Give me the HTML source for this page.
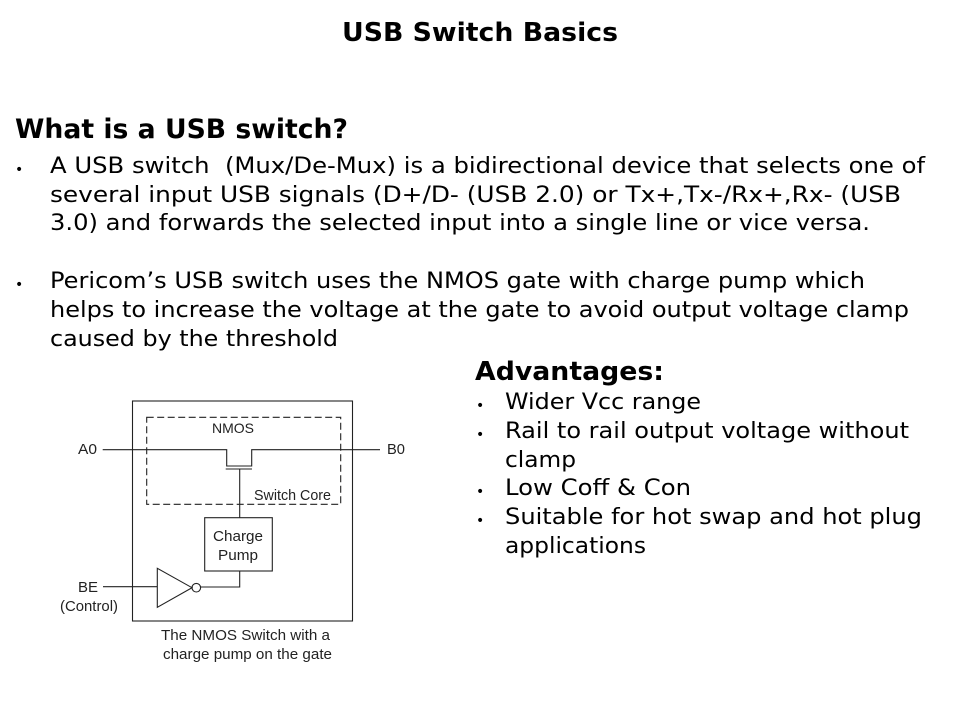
<!DOCTYPE html>
<html><head><meta charset="utf-8"><style>
html,body{margin:0;padding:0;background:#fff}
svg{display:block}
.b{font-family:"DejaVu Sans",sans-serif;font-size:22px;fill:#000}
.h{font-family:"DejaVu Sans",sans-serif;font-weight:bold;fill:#000}
.d{font-family:"Liberation Sans",sans-serif;font-size:15px;fill:#222}
.l{fill:none;stroke:#222;stroke-width:1.1}
</style></head><body>
<svg width="960" height="720" viewBox="0 0 960 720" xmlns="http://www.w3.org/2000/svg">
<rect width="960" height="720" fill="#fff"/>
<text class="h" x="342" y="41" font-size="26" textLength="276" lengthAdjust="spacingAndGlyphs">USB Switch Basics</text>
<text class="h" x="15" y="138" font-size="27" textLength="333" lengthAdjust="spacingAndGlyphs">What is a USB switch?</text>

<text class="b" x="15" y="174" style="font-size:14px">•</text>
<text class="b" x="50" y="173" textLength="875" lengthAdjust="spacingAndGlyphs" xml:space="preserve">A USB switch  (Mux/De-Mux) is a bidirectional device that selects one of</text>
<text class="b" x="50" y="202" textLength="851" lengthAdjust="spacingAndGlyphs">several input USB signals (D+/D- (USB 2.0) or Tx+,Tx-/Rx+,Rx- (USB</text>
<text class="b" x="50" y="230" textLength="820" lengthAdjust="spacingAndGlyphs">3.0) and forwards the selected input into a single line or vice versa.</text>

<text class="b" x="15" y="289" style="font-size:14px">•</text>
<text class="b" x="50" y="288" textLength="815" lengthAdjust="spacingAndGlyphs">Pericom’s USB switch uses the NMOS gate with charge pump which</text>
<text class="b" x="50" y="317" textLength="859" lengthAdjust="spacingAndGlyphs">helps to increase the voltage at the gate to avoid output voltage clamp</text>
<text class="b" x="50" y="346" textLength="288" lengthAdjust="spacingAndGlyphs">caused by the threshold</text>

<text class="h" x="475" y="380" font-size="26" textLength="189" lengthAdjust="spacingAndGlyphs">Advantages:</text>
<text class="b" x="476" y="410" style="font-size:14px">•</text>
<text class="b" x="505" y="409" textLength="196" lengthAdjust="spacingAndGlyphs">Wider Vcc range</text>
<text class="b" x="476" y="439" style="font-size:14px">•</text>
<text class="b" x="505" y="438" textLength="404" lengthAdjust="spacingAndGlyphs">Rail to rail output voltage without</text>
<text class="b" x="505" y="467" textLength="71" lengthAdjust="spacingAndGlyphs">clamp</text>
<text class="b" x="476" y="496" style="font-size:14px">•</text>
<text class="b" x="505" y="495" textLength="186" lengthAdjust="spacingAndGlyphs">Low Coff &amp; Con</text>
<text class="b" x="476" y="525" style="font-size:14px">•</text>
<text class="b" x="505" y="524" textLength="417" lengthAdjust="spacingAndGlyphs">Suitable for hot swap and hot plug</text>
<text class="b" x="505" y="553" textLength="141" lengthAdjust="spacingAndGlyphs">applications</text>

<rect class="l" x="132.5" y="401" width="220" height="220"/>
<rect class="l" x="146.7" y="417.3" width="194" height="87" stroke-dasharray="7 3.5"/>
<path class="l" d="M102.7 449.7H226.7V466H251.7V449.7H380"/>
<path class="l" d="M225.7 469H252" stroke-width="1.6"/>
<path class="l" d="M239.7 469V517.7"/>
<rect class="l" x="204.7" y="517.7" width="67.6" height="53.3"/>
<path class="l" d="M239.7 571V587H200.7"/>
<circle class="l" cx="196.3" cy="587.7" r="4.3"/>
<path class="l" d="M157.3 568.3V607.3L192 587.7Z"/>
<path class="l" d="M103 586.7H157.3"/>

<text class="d" x="78" y="454" textLength="19" lengthAdjust="spacingAndGlyphs">A0</text>
<text class="d" x="387" y="454" textLength="18" lengthAdjust="spacingAndGlyphs">B0</text>
<text class="d" x="212" y="433" style="font-size:14px" textLength="42" lengthAdjust="spacingAndGlyphs">NMOS</text>
<text class="d" x="254" y="500" textLength="77" lengthAdjust="spacingAndGlyphs">Switch Core</text>
<text class="d" x="213" y="541" textLength="50" lengthAdjust="spacingAndGlyphs">Charge</text>
<text class="d" x="218" y="560" textLength="40" lengthAdjust="spacingAndGlyphs">Pump</text>
<text class="d" x="78" y="592" textLength="20" lengthAdjust="spacingAndGlyphs">BE</text>
<text class="d" x="60" y="611" textLength="58" lengthAdjust="spacingAndGlyphs">(Control)</text>
<text class="d" x="161" y="640" textLength="169" lengthAdjust="spacingAndGlyphs">The NMOS Switch with a</text>
<text class="d" x="163" y="659" textLength="169" lengthAdjust="spacingAndGlyphs">charge pump on the gate</text>
</svg>
</body></html>
